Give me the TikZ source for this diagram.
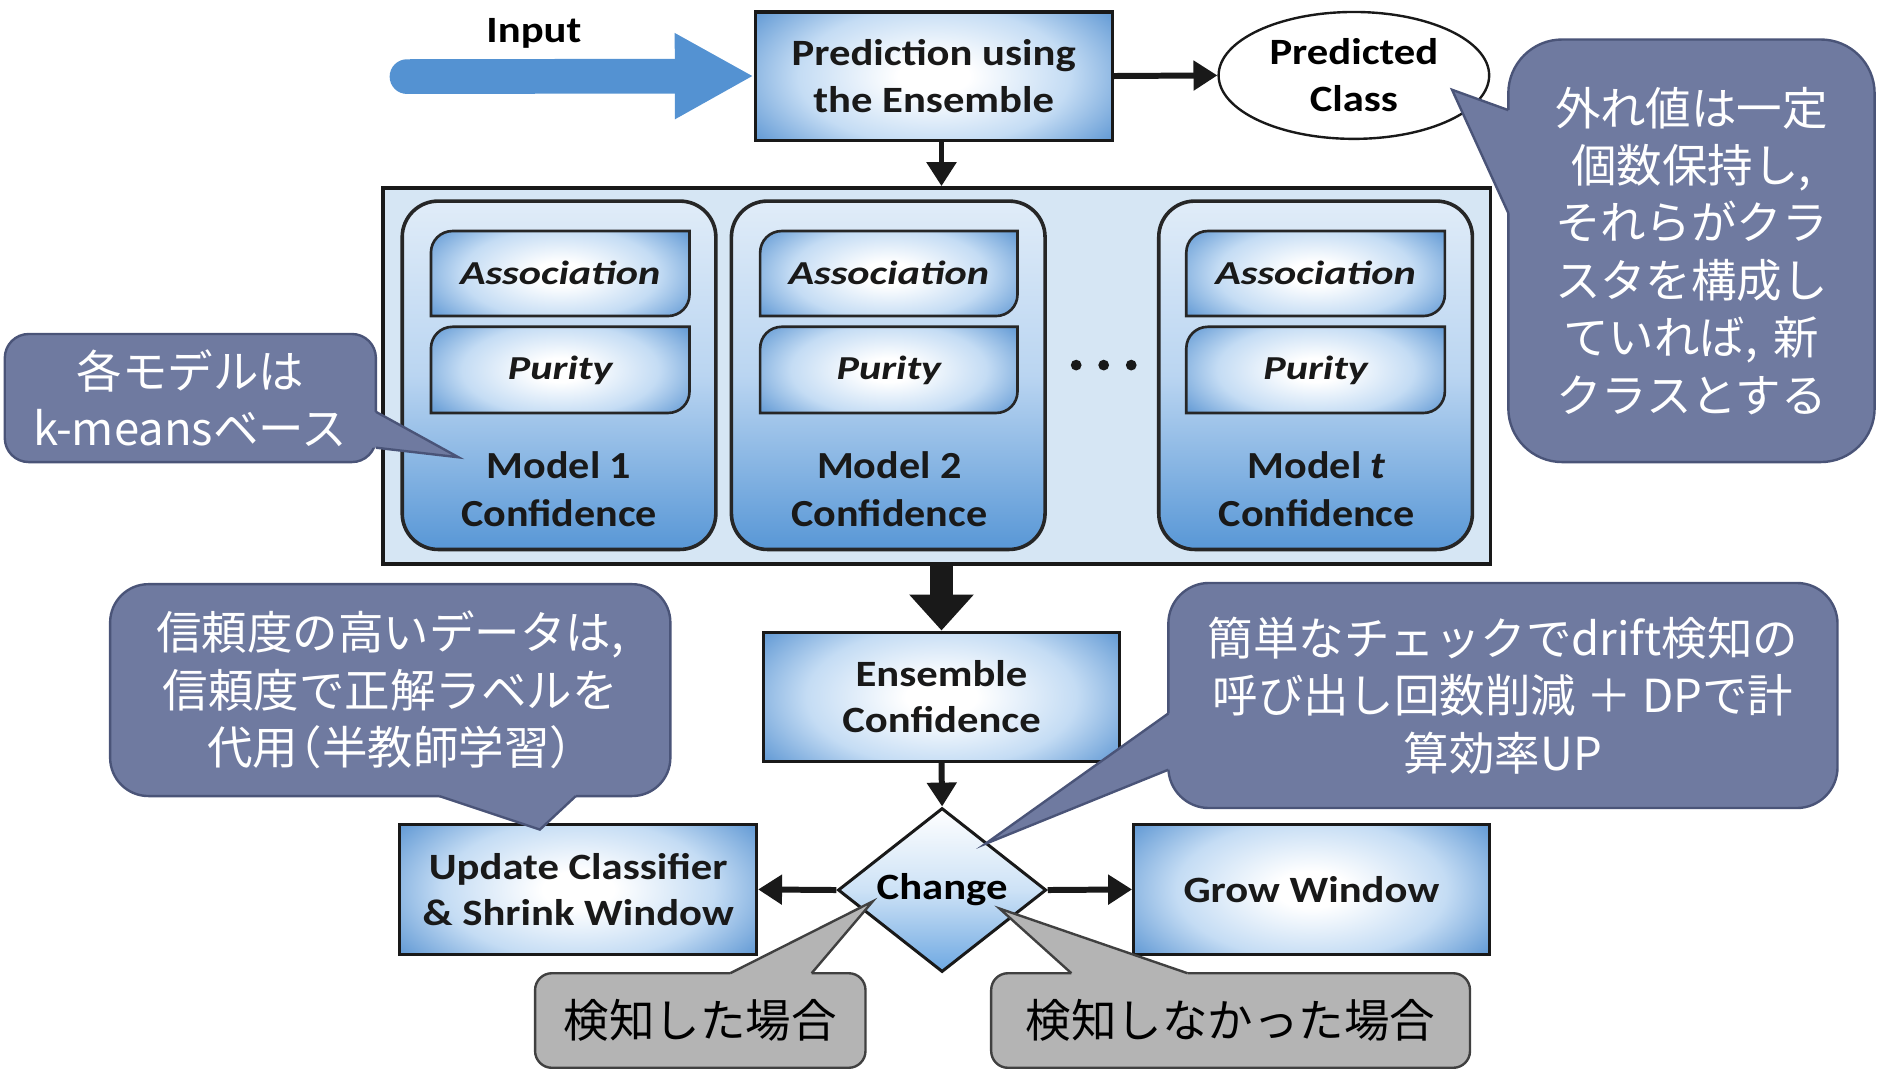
\documentclass[tikz,border=0pt]{standalone}
\usepackage{fontspec}
\setmainfont{Carlito}[FakeStretch=1.15]
\newfontfamily\assocfont{Carlito}[FakeStretch=1.26]
\newfontfamily\modfont{Carlito}[FakeStretch=1.1]
\newfontfamily\jp{Noto Sans CJK JP}
\usetikzlibrary{arrows.meta,shapes.geometric}
\definecolor{boxblue}{RGB}{78,140,206}
\definecolor{boxmid}{RGB}{196,220,244}
\definecolor{inblue}{RGB}{84,146,210}
\definecolor{contfill}{RGB}{214,230,244}
\definecolor{modtop}{RGB}{224,236,248}
\definecolor{modmid}{RGB}{186,213,241}
\definecolor{modbot}{RGB}{88,151,214}
\definecolor{diamid}{RGB}{205,226,246}
\definecolor{diabot}{RGB}{110,168,226}
\definecolor{callfill}{RGB}{111,122,160}
\definecolor{calldraw}{RGB}{74,84,120}
\definecolor{grayfill}{RGB}{180,180,180}
\definecolor{graydraw}{RGB}{64,64,64}
\pgfdeclareradialshading{boxrad}{\pgfpoint{0bp}{0bp}}{color(0bp)=(white); color(5bp)=(white); color(19bp)=(boxmid); color(33bp)=(boxblue); color(75bp)=(boxblue)}
\newcommand\dshape[4]{%
  \draw[dshapestyle] (#1,#4) -- (#3-18,#4) .. controls (#3-8,#4) and (#3,#4-8) .. (#3,#4-18)
    -- (#3,#2) -- (#1+18,#2) .. controls (#1+8,#2) and (#1,#2+8) .. (#1,#2+18) -- cycle;}
\begin{document}
\begin{tikzpicture}[x=1pt,y=-1pt,
  boxshade/.style={path picture={\shade[shading=boxrad] ([yshift=-#1pt]path picture bounding box.south west) rectangle ([yshift=#1pt]path picture bounding box.north east);}},
  boxshade/.default=22,
  flow/.style={draw=black!90, line width=2.6pt, boxshade, inner sep=0pt, align=center,
    font=\fontsize{31}{39}\selectfont\bfseries, text=black!90},
  dlabel/.style={inner sep=0pt, font=\assocfont\fontsize{28}{30}\selectfont\bfseries\itshape, text=black!90},
  dshapestyle/.style={draw=black!85, line width=2.2pt, boxshade=14},
  modbox/.style={draw=black!85, line width=3pt, rounded corners=30pt, top color=modtop,
    bottom color=modbot, middle color=modmid, minimum width=262pt, minimum height=291pt, inner sep=0pt},
  mtext/.style={align=center, inner sep=0pt, font=\modfont\fontsize{32}{40}\selectfont\bfseries, text=black!90},
  arr/.style={draw=black!90, line width=5pt, -{Triangle[length=20pt,width=24pt]}},
  jcall/.style={draw=calldraw, line width=2pt, fill=callfill, text=white, align=center, inner sep=0pt,
    font=\jp\fontsize{38}{48}\selectfont},
  gcall/.style={draw=graydraw, line width=2pt, fill=grayfill, text=black, align=center, inner sep=0pt,
    font=\jp\fontsize{38}{48}\selectfont, rounded corners=14pt},
  jptr/.style={draw=calldraw, line width=2pt},
  gptr/.style={draw=graydraw, line width=2pt}
]
\fill[white] (0,0) rectangle (1568,894);
\useasboundingbox (0,0) rectangle (1568,894);

% top row
\node[flow, minimum width=298pt, minimum height=107pt] (pred) at (780,63.5) {Prediction using\\the Ensemble};
\node[ellipse, draw=black!90, line width=2pt, fill=white, minimum width=226pt, minimum height=106pt,
  inner sep=0pt, align=center, font=\fontsize{31}{39}\selectfont\bfseries] (pc) at (1131,63) {Predicted\\Class};
\node[font=\fontsize{31}{34}\selectfont\bfseries, inner sep=0pt] (inlbl) at (446,28) {Input};
\coordinate (instart) at (340,64);
\draw[inblue, line width=29pt, line cap=round, -{Triangle[length=66pt,width=67pt]}] (instart) -- (pred.west);
\draw[arr] (pred.east) -- (pc.west);

% container with models
\node[draw=black!90, line width=3pt, fill=contfill, minimum width=925pt, minimum height=314pt, inner sep=0pt] (cont) at (782.5,314) {};
\node[modbox] (m1) at (467,313.5) {};
\node[modbox] (m2) at (742,313.5) {};
\node[modbox] (mt) at (1099,313.5) {};
\dshape{360}{193}{576}{264}
\dshape{360}{273}{576}{345}
\dshape{635}{193}{850}{264}
\dshape{635}{273}{850}{345}
\dshape{991}{193}{1207}{264}
\dshape{991}{273}{1207}{345}
\node[dlabel] (a1) at (468,228) {Association};
\node[dlabel] (p1) at (468,309) {Purity};
\node[dlabel] (a2) at (742.5,228) {Association};
\node[dlabel] (p2) at (742.5,309) {Purity};
\node[dlabel] (a3) at (1099,228) {Association};
\node[dlabel] (p3) at (1099,309) {Purity};
\node[mtext] (mt1) at (467,408.5) {Model 1\\Confidence};
\node[mtext] (mt2) at (743,408.5) {Model 2\\Confidence};
\node[mtext] (mt3) at (1100,408.5) {Model \textit{t}\\Confidence};
\fill[black!90] (899,305) circle (4.5) (922,305) circle (4.5) (945,305) circle (4.5);

% lower flow
\node[flow, minimum width=297pt, minimum height=108pt] (ens) at (786.5,582) {Ensemble\\Confidence};
\draw[arr] (ens.north |- pred.south) -- (ens.north |- cont.north);
\draw[draw=black!90, line width=20pt, -{Triangle[length=30pt,width=52pt]}] (cont.south -| ens.north) -- (ens.north);
\node[diamond, draw=black!90, line width=2.5pt, top color=white, bottom color=diabot, middle color=diamid,
  minimum width=174pt, minimum height=137pt, inner sep=0pt, font=\fontsize{31}{34}\selectfont\bfseries] (chg) at (787,743.5) {Change};
\draw[arr] (ens.south) -- (chg.north);
\node[flow, minimum width=298pt, minimum height=108pt] (upd) at (483,743) {Update Classifier\\\& Shrink Window};
\node[flow, minimum width=297pt, minimum height=108pt] (grow) at (1095.5,743) {Grow Window};
\draw[arr] (chg.west) -- (upd.east);
\draw[arr] (chg.east) -- (grow.west);

% callouts
\node[jcall, rounded corners=20pt, minimum width=310pt, minimum height=107pt] (c1) at (159,332.5) {各モデルは\\k-meansベース};
\coordinate (t1) at (383,382);
\fill[callfill] (306,344) -- (314,344) -- (t1) -- (314,374) -- (306,374) -- cycle;
\draw[jptr] (314,344) -- (t1) -- (314,374);

\node[jcall, rounded corners=45pt, minimum width=306pt, minimum height=353pt] (c2) at (1413,209.5) {外れ値は一定\\個数保持し,\\それらがクラ\\スタを構成し\\ていれば,\hspace{0.35em}新\\クラスとする};
\coordinate (t2) at (1213,75);
\fill[callfill] (1268,92) -- (1260,92) -- (t2) -- (1260,178) -- (1268,178) -- cycle;
\draw[jptr] (1260,92) -- (t2) -- (1260,178);

\node[jcall, rounded corners=32pt, minimum width=468pt, minimum height=177pt] (c3) at (326,576.5) {信頼度の高いデータは,\\信頼度で正解ラベルを\\代用\kern-0.48em（半教師学習）\kern-0.48em};
\coordinate (t3) at (451,693);
\fill[callfill] (367,657) -- (367,665) -- (t3) -- (481,665) -- (481,657) -- cycle;
\draw[jptr] (367,665) -- (t3) -- (481,665);

\node[jcall, rounded corners=34pt, minimum width=559pt, minimum height=188pt] (c4) at (1255.5,581) {簡単なチェックでdrift検知の\\呼び出し回数削減 ＋ DPで計\\算効率UP};
\coordinate (t4) at (823,705);
\fill[callfill] (984,596) -- (976,596) -- (t4) -- (976,643) -- (984,643) -- cycle;
\draw[jptr] (976,596) -- (t4) -- (976,643);

\node[gcall, minimum width=276pt, minimum height=79pt] (g1) at (585,852.5) {検知した場合};
\coordinate (t5) at (729,753);
\fill[grayfill] (610,821) -- (610,813) -- (t5) -- (678,813) -- (678,821) -- cycle;
\draw[gptr] (610,813) -- (t5) -- (678,813);

\node[gcall, minimum width=400pt, minimum height=79pt] (g2) at (1028,852.5) {検知しなかった場合};
\coordinate (t6) at (835,759);
\fill[grayfill] (895,821) -- (895,813) -- (t6) -- (992,813) -- (992,821) -- cycle;
\draw[gptr] (895,813) -- (t6) -- (992,813);
\end{tikzpicture}
\end{document}
